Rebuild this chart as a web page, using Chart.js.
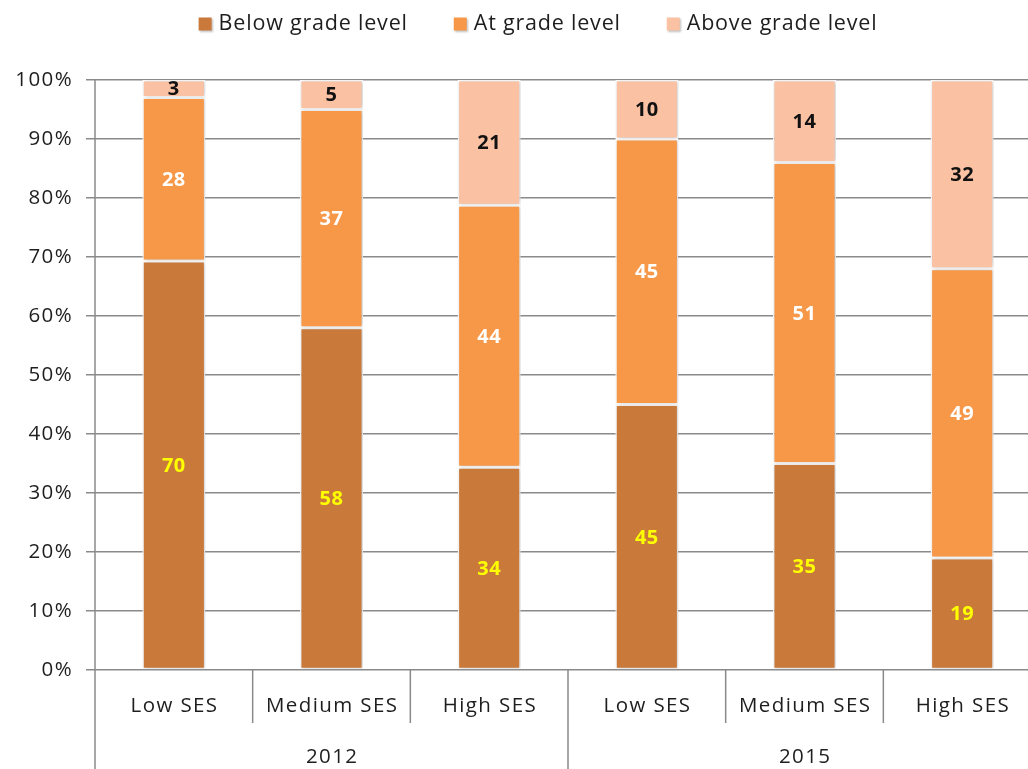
<!DOCTYPE html>
<html>
<head>
<meta charset="utf-8">
<script src="https://cdn.jsdelivr.net/npm/chart.js@4.4.1/dist/chart.umd.min.js"></script>
<style>
  html, body { margin: 0; padding: 0; background: #ffffff; overflow: hidden; }
  #wrap { width: 1041px; height: 769px; }
</style>
</head>
<body>
<div id="wrap"><canvas id="chart" width="1041" height="769"></canvas></div>
<script>
// Reading attainment by socio-economic status, 2012 vs 2015
const years = ['2012', '2015'];
const sesLevels = ['Low SES', 'Medium SES', 'High SES'];
const categories = ['Low SES', 'Medium SES', 'High SES', 'Low SES', 'Medium SES', 'High SES'];
const seriesNames = ['Below grade level', 'At grade level', 'Above grade level'];
const belowGrade = [70, 58, 34, 45, 35, 19];
const atGrade = [28, 37, 44, 45, 51, 49];
const aboveGrade = [3, 5, 21, 10, 14, 32];
const yTicks = [0, 10, 20, 30, 40, 50, 60, 70, 80, 90, 100];

const seriesValues = [belowGrade, atGrade, aboveGrade];
const seriesColors = ['#C9793A', '#F79748', '#FAC1A3'];
const labelColors = ['#FFFF00', '#FFFFFF', '#111111'];

// 100% stacked: each column is scaled to its own total
const totals = categories.map((_, i) => seriesValues.reduce((s, arr) => s + arr[i], 0));
const datasets = seriesValues.map((vals, k) => ({
  label: seriesNames[k],
  data: vals.map((v, i) => v / totals[i] * 100),
  raw: vals,
  backgroundColor: seriesColors[k],
  borderColor: '#FFFFFF',
  borderWidth: 1.5,
  borderSkipped: false,
  barPercentage: 0.4,
  categoryPercentage: 1.0
}));

const FONT = '"Open Sans", "Liberation Sans", sans-serif';
const TEXT = '#1E1E1E';
const GRID = '#8A8A8A';

// a little extra tracking for the axis tick text
const tracking = {
  id: 'tracking',
  beforeDraw(chart) { chart.ctx.letterSpacing = '1.4px'; },
  afterDraw(chart) { chart.ctx.letterSpacing = '0px'; }
};

const barShadow = {
  id: 'barShadow',
  beforeDatasetsDraw(chart) {
    const ctx = chart.ctx;
    ctx.save();
    ctx.shadowColor = 'rgba(0,0,0,0.22)';
    ctx.shadowBlur = 4;
    ctx.shadowOffsetX = 1;
    ctx.shadowOffsetY = 0;
  },
  afterDatasetsDraw(chart) {
    chart.ctx.restore();
  }
};

const segmentLabels = {
  id: 'segmentLabels',
  afterDatasetsDraw(chart) {
    const ctx = chart.ctx;
    ctx.save();
    ctx.letterSpacing = '0.5px';
    ctx.font = 'bold 20px ' + FONT;
    ctx.textAlign = 'center';
    ctx.textBaseline = 'middle';
    chart.data.datasets.forEach((ds, k) => {
      const meta = chart.getDatasetMeta(k);
      meta.data.forEach((bar, i) => {
        const yMid = (bar.y + bar.base) / 2;
        ctx.fillStyle = labelColors[k];
        ctx.fillText(String(ds.raw[i]), bar.x, yMid + 1);
      });
    });
    ctx.restore();
  }
};

const categoryAxis = {
  id: 'categoryAxis',
  afterDraw(chart) {
    const ctx = chart.ctx;
    const area = chart.chartArea;
    const xs = chart.scales.x;
    const H = chart.height;
    const n = categories.length;
    const step = xs.getPixelForValue(1) - xs.getPixelForValue(0);
    const edge = i => xs.getPixelForValue(i) - step / 2;

    ctx.save();
    ctx.strokeStyle = GRID;
    ctx.lineWidth = 1.5;
    // value axis line, running down through the category rows
    ctx.beginPath();
    ctx.moveTo(area.left, area.top);
    ctx.lineTo(area.left, H);
    ctx.stroke();
    // separators between categories
    for (let i = 1; i < n; i++) {
      const x = edge(i);
      const groupBreak = i % sesLevels.length === 0;
      ctx.beginPath();
      ctx.moveTo(x, area.bottom);
      ctx.lineTo(x, groupBreak ? H : area.bottom + 53);
      ctx.stroke();
    }
    // category and year labels
    ctx.fillStyle = TEXT;
    ctx.letterSpacing = '1.4px';
    ctx.font = '20.5px ' + FONT;
    ctx.textAlign = 'center';
    ctx.textBaseline = 'middle';
    categories.forEach((c, i) => {
      ctx.fillText(c, xs.getPixelForValue(i) + 0.7, area.bottom + 36);
    });
    years.forEach((y, g) => {
      const a = xs.getPixelForValue(g * sesLevels.length);
      const b = xs.getPixelForValue(g * sesLevels.length + sesLevels.length - 1);
      ctx.fillText(y, (a + b) / 2 + 0.7, area.bottom + 87);
    });
    ctx.restore();
  }
};

const topLegend = {
  id: 'topLegend',
  afterDraw(chart) {
    const ctx = chart.ctx;
    ctx.save();
    ctx.letterSpacing = '0.8px';
    ctx.font = '21.5px ' + FONT;
    ctx.textBaseline = 'middle';
    ctx.textAlign = 'left';
    const box = 13, gap = 7, spacing = 46;
    const widths = seriesNames.map(s => ctx.measureText(s).width);
    const total = widths.reduce((s, w) => s + w + box + gap, 0) + spacing * (seriesNames.length - 1);
    let x = 538 - total / 2;
    const cy = 24;
    seriesNames.forEach((s, k) => {
      ctx.save();
      ctx.shadowColor = 'rgba(0,0,0,0.25)';
      ctx.shadowBlur = 2;
      ctx.shadowOffsetX = 1;
      ctx.shadowOffsetY = 1;
      ctx.fillStyle = seriesColors[k];
      ctx.fillRect(x, cy - box / 2, box, box);
      ctx.restore();
      ctx.fillStyle = TEXT;
      ctx.fillText(s, x + box + gap, cy);
      x += box + gap + widths[k] + spacing;
    });
    ctx.restore();
  }
};

new Chart(document.getElementById('chart'), {
  type: 'bar',
  data: { labels: categories, datasets },
  options: {
    responsive: false,
    animation: false,
    layout: { padding: { top: 80, bottom: 99, left: 0, right: 0 } },
    plugins: { legend: { display: false }, tooltip: { enabled: false } },
    scales: {
      x: {
        display: false,
        stacked: true
      },
      y: {
        stacked: true,
        min: 0,
        max: 100,
        afterFit(scale) { scale.width = 95; },
        afterBuildTicks(scale) { scale.ticks = yTicks.map(v => ({ value: v })); },
        ticks: {
          callback: v => v + '%',
          color: TEXT,
          padding: 13,
          font: { family: FONT, size: 20.5 }
        },
        grid: { color: GRID, lineWidth: 1.5, tickLength: 9, drawTicks: true },
        border: { display: false }
      }
    }
  },
  plugins: [tracking, barShadow, segmentLabels, categoryAxis, topLegend]
});
</script>
</body>
</html>
